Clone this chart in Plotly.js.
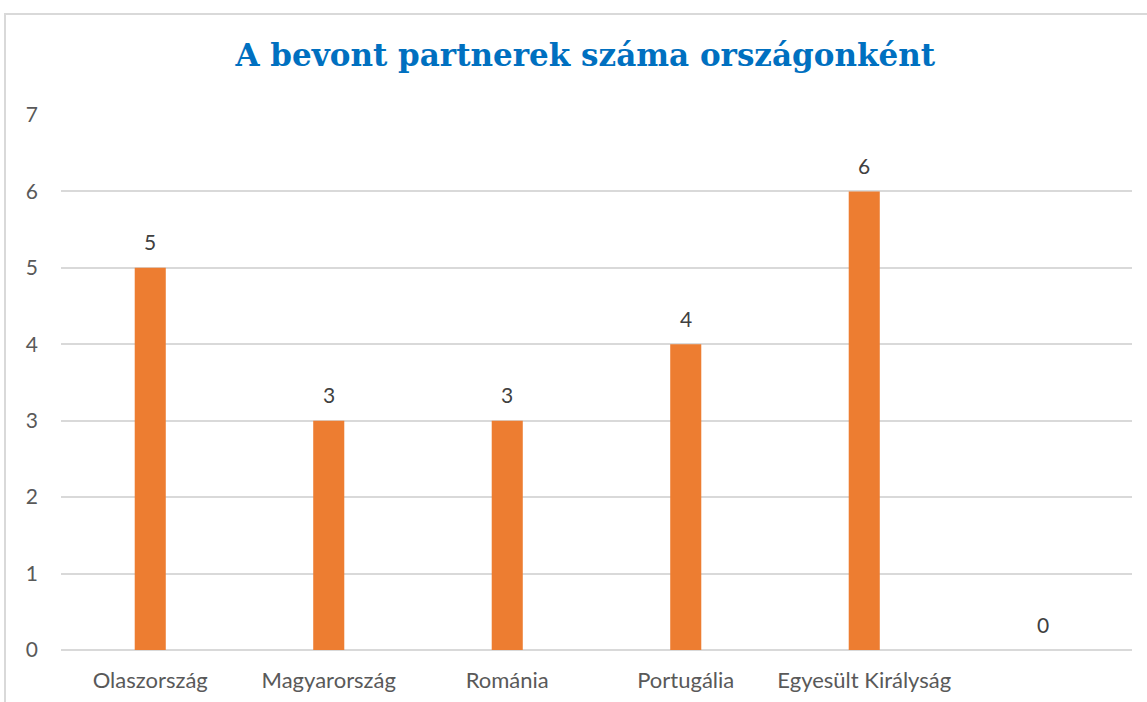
<!DOCTYPE html>
<html>
<head>
<meta charset="utf-8">
<script src="https://cdn.plot.ly/plotly-3.0.1.min.js"></script>
<style>
html,body{margin:0;padding:0;background:#fff;}
#wrap{position:relative;width:1147px;height:702px;}
#chart{width:1147px;height:702px;}
#frame{position:absolute;left:4px;top:13px;width:1160px;height:720px;border-left:2px solid #d9d9d9;border-top:2px solid #d9d9d9;pointer-events:none;}
</style>
</head>
<body>
<div id="wrap"><div id="chart"></div><div id="frame"></div></div>
<script>
const categories = ["Olaszország", "Magyarország", "Románia", "Portugália", "Egyesült Királyság", " "];
const values = [5, 3, 3, 4, 6, 0];
const yTicks = [0, 1, 2, 3, 4, 5, 6, 7];
const chartTitle = "A bevont partnerek száma országonként";

const labelFont = {family: "Lato, 'Open Sans', sans-serif", size: 22, color: "#595959"};

const trace = {
  type: "bar",
  x: categories,
  y: values,
  marker: {color: "#ED7D31"},
  hoverinfo: "x+y"
};

const annotations = categories.map((c, i) => ({
  x: c, y: values[i], xref: "x", yref: "y",
  text: String(values[i]), showarrow: false,
  yshift: 26, yanchor: "middle",
  font: {family: labelFont.family, size: 21, color: "#404040"}
}));

const layout = {
  width: 1147, height: 702,
  margin: {l: 61, r: 15, t: 115, b: 52},
  paper_bgcolor: "#ffffff",
  plot_bgcolor: "#ffffff",
  bargap: 0.826,
  showlegend: false,
  annotations: annotations,
  title: {
    text: "<b>" + chartTitle + "</b>",
    font: {family: "'DejaVu Serif', 'Liberation Serif', serif", size: 31, color: "#0070C0"},
    x: 0.4895, xanchor: "center", xref: "paper",
    y: 0.922, yanchor: "middle", yref: "container"
  },
  xaxis: {
    type: "category",
    tickfont: labelFont,
    showgrid: false, zeroline: false, showline: false,
    ticks: "", ticklabelstandoff: 15
  },
  yaxis: {
    range: [0, 7],
    tickvals: yTicks,
    ticktext: yTicks.map(String),
    tickfont: {family: labelFont.family, size: 21, color: "#595959"},
    showgrid: true, gridcolor: "#d9d9d9", gridwidth: 2,
    zeroline: true, zerolinecolor: "#d9d9d9", zerolinewidth: 2,
    showline: false, ticks: "", ticklabelstandoff: 22
  }
};

Plotly.newPlot("chart", [trace], layout, {displayModeBar: false});
</script>
</body>
</html>
